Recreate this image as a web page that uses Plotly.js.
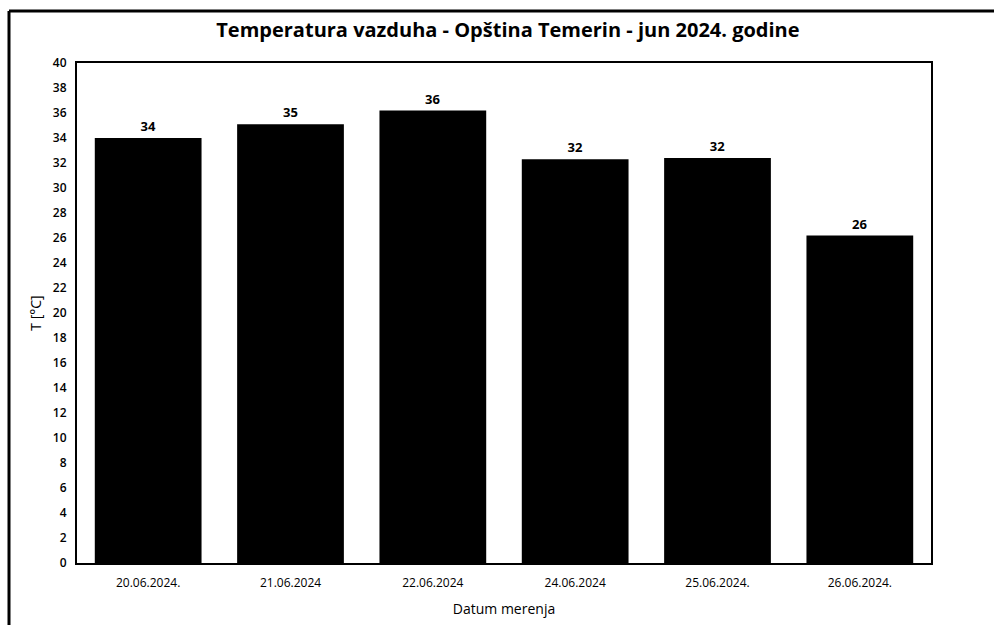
<!DOCTYPE html>
<html>
<head>
<meta charset="utf-8">
<script src="https://cdn.plot.ly/plotly-3.0.1.min.js"></script>
<style>html,body{margin:0;padding:0;background:#fff;}#chart{width:994px;height:625px;}</style>
</head>
<body>
<div id="chart"></div>
<script>
const dates = ["20.06.2024.", "21.06.2024", "22.06.2024", "24.06.2024", "25.06.2024.", "26.06.2024."];
const temps = [34.0, 35.1, 36.2, 32.3, 32.4, 26.2];
const yTicks = [0, 2, 4, 6, 8, 10, 12, 14, 16, 18, 20, 22, 24, 26, 28, 30, 32, 34, 36, 38, 40];

const trace = {
  type: "bar",
  x: dates,
  y: temps,
  marker: {color: "#000000"},
  texttemplate: "%{y:.0f}",
  textposition: "outside",
  textfont: {family: "Open Sans", size: 13, color: "#000", weight: 700},
  cliponaxis: false,
  hoverinfo: "skip"
};

const layout = {
  width: 994, height: 625,
  margin: {l: 77, r: 63, t: 63, b: 62},
  paper_bgcolor: "#fff", plot_bgcolor: "#fff",
  bargap: 0.25,
  showlegend: false,
  title: {text: "<b>Temperatura vazduha - Opština Temerin - jun 2024. godine</b>",
          font: {family: "Open Sans", size: 20, color: "#000"},
          x: 0.511, xanchor: "center", y: 0.952, yanchor: "middle"},
  xaxis: {
    title: {text: "Datum merenja", font: {family: "Open Sans", size: 14, color: "#000"}, standoff: 14},
    tickfont: {family: "Open Sans", size: 12, color: "#000"},
    showline: true, mirror: true, linecolor: "#000", linewidth: 2,
    ticks: "", ticklabelstandoff: 8, showgrid: false, zeroline: false
  },
  yaxis: {
    title: {text: "T [°C]", font: {family: "Open Sans", size: 14, color: "#000"}, standoff: 8},
    range: [0, 40], tickvals: yTicks, ticktext: yTicks.map(String),
    tickfont: {family: "Open Sans", size: 12, color: "#000", weight: 600},
    showline: true, mirror: true, linecolor: "#000", linewidth: 2,
    ticks: "", ticklabelstandoff: 6, showgrid: false, zeroline: false
  },
  shapes: [
    {type: "line", xref: "paper", yref: "paper", x0: (9-77)/854, x1: (994-77)/854, y0: 1+(63-11)/500, y1: 1+(63-11)/500, line: {color: "#000", width: 3}},
    {type: "line", xref: "paper", yref: "paper", x0: (9-77)/854, x1: (9-77)/854, y0: 1+(63-11)/500, y1: -(625-563)/500, line: {color: "#000", width: 3}}
  ]
};

Plotly.newPlot("chart", [trace], layout, {displayModeBar: false, staticPlot: true});
</script>
</body>
</html>
